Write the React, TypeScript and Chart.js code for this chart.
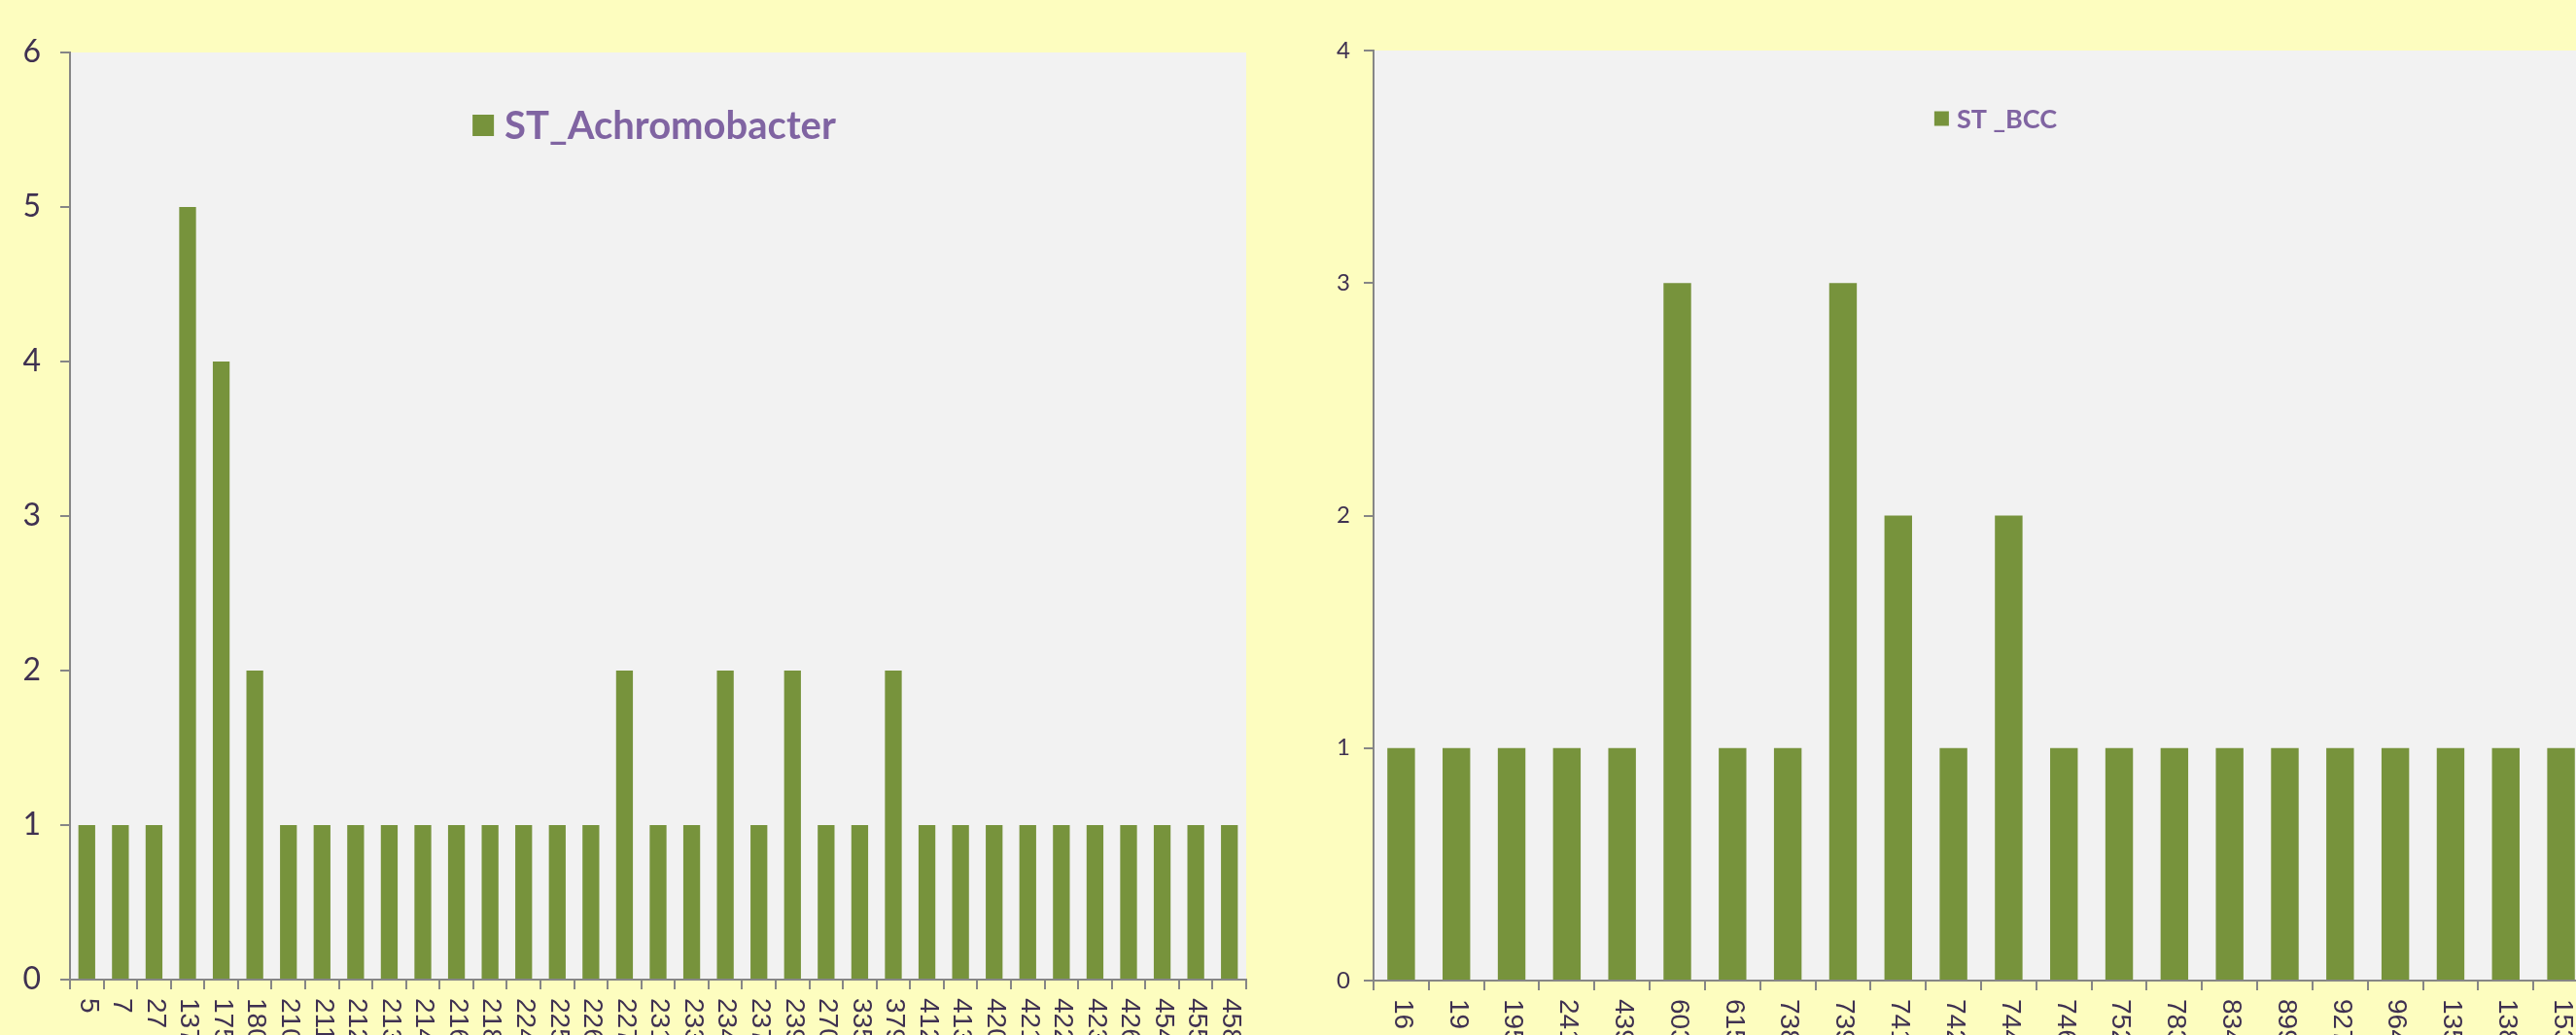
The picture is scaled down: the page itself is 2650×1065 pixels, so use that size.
import React, { useEffect, useRef } from "react";
import { Chart, registerables } from "chart.js";

Chart.register(...registerables);

const leftCategories = ["5", "7", "27", "137", "175", "180", "210", "211", "212", "213", "214", "216", "218", "224", "225", "226", "227", "231", "233", "234", "237", "239", "270", "335", "379", "412", "413", "420", "421", "422", "423", "426", "454", "455", "458"];
const leftValues = [1, 1, 1, 5, 4, 2, 1, 1, 1, 1, 1, 1, 1, 1, 1, 1, 2, 1, 1, 2, 1, 2, 1, 1, 2, 1, 1, 1, 1, 1, 1, 1, 1, 1, 1];
const leftLabel = "ST_Achromobacter";
const leftYTicks = [0, 1, 2, 3, 4, 5, 6];

const rightCategories = ["16", "19", "195", "241", "439", "603", "615", "738", "739", "741", "742", "744", "746", "752", "783", "834", "899", "927", "964", "135", "138", "153"];
const rightValues = [1, 1, 1, 1, 1, 3, 1, 1, 3, 2, 1, 2, 1, 1, 1, 1, 1, 1, 1, 1, 1, 1];
const rightLabel = "ST _BCC";
const rightYTicks = [0, 1, 2, 3, 4];

const BG = "#FDFDBF";
const PLOT_BG = "#F2F2F2";
const BAR = "#77933C";
const AXIS = "#868686";
const TICK_TEXT = "#3F3151";
const LEGEND_TEXT = "#8064A2";

type PanelProps = {
  categories: string[];
  values: number[];
  label: string;
  yTicks: number[];
  left: number;
  width: number;
  height: number;
  areaLeft: number;
  areaTop: number;
  areaRight: number;
  areaBottom: number;
  yFont: number;
  yPad: number;
  xFont: number;
  legendFont: number;
  legendBox: number;
  legendDy: number;
  legendDx: number;
};

function BarPanel(p: PanelProps) {
  const ref = useRef<HTMLCanvasElement>(null);
  useEffect(() => {
    const canvas = ref.current;
    if (!canvas) return;
    const decor = {
      id: "decor" + p.label.replace(/\W/g, ""),
      beforeDraw(chart: any) {
        const { ctx, chartArea } = chart;
        ctx.save();
        ctx.fillStyle = PLOT_BG;
        ctx.fillRect(chartArea.left, chartArea.top, chartArea.right - chartArea.left, chartArea.bottom - chartArea.top);
        ctx.restore();
      },
      afterDraw(chart: any) {
        const { ctx, chartArea } = chart;
        const xs = chart.scales.x;
        const labels = chart.data.labels as string[];
        ctx.save();
        ctx.font = `${p.xFont}px "Liberation Sans", Arial, sans-serif`;
        ctx.fillStyle = TICK_TEXT;
        ctx.textAlign = "left";
        ctx.textBaseline = "middle";
        labels.forEach((lab, i) => {
          const x = xs.getPixelForTick(i);
          ctx.save();
          ctx.translate(x + 1, xs.top + 19);
          ctx.rotate(Math.PI / 2);
          ctx.fillText(lab, 0, 0);
          ctx.restore();
        });
        ctx.restore();

        // legend
        const ds = chart.data.datasets[0];
        ctx.save();
        ctx.font = `bold ${p.legendFont}px Lato, "Open Sans", sans-serif`;
        const tw = ctx.measureText(ds.label).width;
        const gap = Math.round(p.legendBox * 0.5);
        const total = p.legendBox + gap + tw;
        const cx = (chartArea.left + chartArea.right) / 2 + p.legendDx;
        const cy = chartArea.top + p.legendDy;
        const x0 = cx - total / 2;
        ctx.fillStyle = ds.backgroundColor;
        ctx.fillRect(x0, cy - p.legendBox / 2, p.legendBox, p.legendBox);
        ctx.fillStyle = LEGEND_TEXT;
        ctx.textAlign = "left";
        ctx.textBaseline = "middle";
        ctx.fillText(ds.label, x0 + p.legendBox + gap, cy + 1);
        ctx.restore();
      },
    };

    const chart = new Chart(canvas, {
      type: "bar",
      data: {
        labels: p.categories,
        datasets: [
          {
            label: p.label,
            data: p.values,
            backgroundColor: BAR,
            borderWidth: 0,
            barPercentage: 0.5,
            categoryPercentage: 1,
          },
        ],
      },
      options: {
        responsive: false,
        animation: false,
        devicePixelRatio: 1,
        layout: {
          padding: {
            top: p.areaTop,
            left: 0,
            right: p.width - p.areaRight,
            bottom: 0,
          },
        },
        plugins: {
          legend: { display: false },
          tooltip: { enabled: false },
        },
        scales: {
          x: {
            type: "category",
            offset: true,
            grid: {
              offset: true,
              drawOnChartArea: false,
              drawTicks: true,
              tickLength: 10,
              color: AXIS,
              lineWidth: 2,
            },
            border: { display: true, color: AXIS, width: 2 },
            ticks: { display: false },
            afterFit: (scale: any) => {
              scale.height = p.height - p.areaBottom;
            },
          },
          y: {
            min: p.yTicks[0],
            max: p.yTicks[p.yTicks.length - 1],
            afterBuildTicks: (scale: any) => {
              scale.ticks = p.yTicks.map((v) => ({ value: v }));
            },
            grid: {
              drawOnChartArea: false,
              drawTicks: true,
              tickLength: 10,
              color: AXIS,
              lineWidth: 2,
            },
            border: { display: true, color: AXIS, width: 2 },
            ticks: {
              padding: p.yPad,
              color: TICK_TEXT,
              font: { family: 'Lato, "Open Sans", sans-serif', size: p.yFont },
            },
            afterFit: (scale: any) => {
              scale.width = p.areaLeft;
            },
          },
        },
      },
      plugins: [decor],
    } as any);
    return () => chart.destroy();
  }, []);
  return (
    <canvas
      ref={ref}
      width={p.width}
      height={p.height}
      style={{ position: "absolute", left: p.left, top: 0, width: p.width, height: p.height }}
    />
  );
}

export default function App() {
  return (
    <div
      style={{
        position: "fixed",
        left: 0,
        top: 0,
        width: 2650,
        height: 1065,
        overflow: "hidden",
        background: BG,
      }}
    >
      <BarPanel
        categories={leftCategories}
        values={leftValues}
        label={leftLabel}
        yTicks={leftYTicks}
        left={0}
        width={1300}
        height={1140}
        areaLeft={72}
        areaTop={54}
        areaRight={1282}
        areaBottom={1008}
        yFont={32}
        yPad={20}
        xFont={28}
        legendFont={40}
        legendBox={22}
        legendDy={75}
        legendDx={-4}
      />
      <BarPanel
        categories={rightCategories}
        values={rightValues}
        label={rightLabel}
        yTicks={rightYTicks}
        left={1300}
        width={1400}
        height={1140}
        areaLeft={113}
        areaTop={52}
        areaRight={1363}
        areaBottom={1009}
        yFont={24}
        yPad={14}
        xFont={28}
        legendFont={27}
        legendBox={15}
        legendDy={70}
        legendDx={15}
      />
    </div>
  );
}
